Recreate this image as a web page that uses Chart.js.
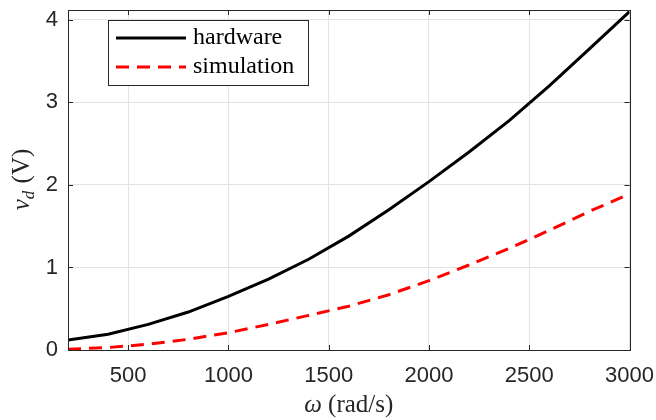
<!DOCTYPE html>
<html>
<head>
<meta charset="utf-8">
<script src="https://cdn.jsdelivr.net/npm/chart.js@4.4.1/dist/chart.umd.min.js"></script>
<style>
html,body{margin:0;padding:0;background:#fff;}
#wrap{width:656px;height:420px;position:relative;}
</style>
</head>
<body>
<div id="wrap"><canvas id="c" width="656" height="420"></canvas></div>
<script>
const omega = [200,400,600,800,1000,1200,1400,1600,1800,2000,2200,2400,2600,2800,3000];
const hardware = [0.12,0.19,0.31,0.46,0.65,0.86,1.10,1.38,1.70,2.04,2.40,2.78,3.20,3.65,4.10];
const simulation = [0.01,0.03,0.07,0.13,0.21,0.31,0.42,0.53,0.67,0.84,1.03,1.23,1.45,1.68,1.89];
const xTicks = [500,1000,1500,2000,2500,3000];
const yTicks = [0,1,2,3,4];
const seriesNames = ['hardware','simulation'];
const xTitleSym = 'ω';
const xTitleUnit = ' (rad/s)';
const yTitleSym = 'v';
const yTitleSub = 'd';
const yTitleUnit = ' (V)';

const AX = '#262626';
const serif = '"Liberation Serif", "DejaVu Serif", serif';

const toXY = (xs, ys) => xs.map((x,i)=>({x:x, y:ys[i]}));

const framePlugin = {
  id:'frame',
  afterDraw(chart){
    const {ctx, chartArea:a, scales} = chart;
    ctx.save();
    ctx.strokeStyle = AX;
    ctx.lineWidth = 1;
    ctx.strokeRect(Math.round(a.left)+0.5, Math.round(a.top)+0.5, Math.round(a.right-a.left), Math.round(a.bottom-a.top));
    const tl = 5;
    ctx.beginPath();
    xTicks.forEach(v=>{
      const px = Math.round(scales.x.getPixelForValue(v))+0.5;
      ctx.moveTo(px,a.bottom); ctx.lineTo(px,a.bottom-tl);
      ctx.moveTo(px,a.top); ctx.lineTo(px,a.top+tl);
    });
    yTicks.forEach(v=>{
      const py = Math.round(scales.y.getPixelForValue(v))+0.5;
      ctx.moveTo(a.left,py); ctx.lineTo(a.left+tl,py);
      ctx.moveTo(a.right,py); ctx.lineTo(a.right-tl,py);
    });
    ctx.stroke();

    // legend
    const lx=108.5, ly=20.5, lw=200, lh=65;
    ctx.fillStyle='#fff';
    ctx.fillRect(lx,ly,lw,lh);
    ctx.strokeStyle=AX;
    ctx.strokeRect(lx,ly,lw,lh);
    const rows=[38,67];
    chart.data.datasets.forEach((ds,i)=>{
      ctx.beginPath();
      ctx.strokeStyle=ds.borderColor;
      ctx.lineWidth=ds.borderWidth;
      ctx.setLineDash(ds.borderDash||[]);
      ctx.moveTo(116,rows[i]); ctx.lineTo(186,rows[i]);
      ctx.stroke();
      ctx.setLineDash([]);
      ctx.fillStyle='#000';
      ctx.font='24px '+serif;
      ctx.textBaseline='middle';
      ctx.textAlign='left';
      ctx.fillText(ds.label,193,rows[i]);
    });

    // x title
    ctx.fillStyle=AX;
    ctx.textBaseline='alphabetic';
    ctx.font='italic 25px '+serif;
    const w1 = ctx.measureText(xTitleSym).width;
    ctx.font='25px '+serif;
    const w2 = ctx.measureText(xTitleUnit).width;
    const cx=(a.left+a.right)/2;
    let x0 = cx-(w1+w2)/2;
    ctx.font='italic 25px '+serif;
    ctx.fillText(xTitleSym,x0,412);
    ctx.font='25px '+serif;
    ctx.fillText(xTitleUnit,x0+w1,412);

    // y title
    ctx.save();
    ctx.translate(29,(a.top+a.bottom)/2);
    ctx.rotate(-Math.PI/2);
    ctx.font='italic 25px '+serif;
    const v1=ctx.measureText(yTitleSym).width;
    ctx.font='italic 17px '+serif;
    const v2=ctx.measureText(yTitleSub).width;
    ctx.font='25px '+serif;
    const v3=ctx.measureText(yTitleUnit).width;
    let y0=-(v1+v2+v3)/2;
    ctx.font='italic 25px '+serif;
    ctx.fillText(yTitleSym,y0,0);
    ctx.font='italic 17px '+serif;
    ctx.fillText(yTitleSub,y0+v1,5);
    ctx.font='25px '+serif;
    ctx.fillText(yTitleUnit,y0+v1+v2+1,0);
    ctx.restore();
    ctx.restore();
  }
};

const zeroPad = s => { s.paddingLeft=0; s.paddingRight=0; s.paddingTop=0; s.paddingBottom=0; };

new Chart(document.getElementById('c'), {
  type:'line',
  data:{
    datasets:[
      {label:seriesNames[0], data:toXY(omega,hardware), borderColor:'#000000', borderWidth:3, pointRadius:0, tension:0, fill:false},
      {label:seriesNames[1], data:toXY(omega,simulation), borderColor:'#ff0000', borderWidth:3, borderDash:[13,8], pointRadius:0, tension:0, fill:false}
    ]
  },
  options:{
    responsive:false,
    animation:false,
    devicePixelRatio:1,
    layout:{padding:{top:10,right:26.5,left:0,bottom:0}},
    plugins:{legend:{display:false}, tooltip:{enabled:false}},
    scales:{
      x:{
        type:'linear', min:200, max:3000,
        afterBuildTicks(s){ s.ticks = xTicks.map(v=>({value:v})); },
        afterFit(s){ s.height = 70; zeroPad(s); },
        grid:{color:'#e3e3e3', drawTicks:false, lineWidth:1},
        border:{display:false},
        ticks:{color:AX, font:{family:'"Liberation Sans", Arial, sans-serif', size:22}, padding:13, maxRotation:0, autoSkip:false, callback:v=>String(v)}
      },
      y:{
        type:'linear', min:0, max:4.12,
        afterBuildTicks(s){ s.ticks = yTicks.map(v=>({value:v})); },
        afterFit(s){ s.width = 68; zeroPad(s); },
        grid:{color:'#e3e3e3', drawTicks:false, lineWidth:1},
        border:{display:false},
        ticks:{color:AX, font:{family:'"Liberation Sans", Arial, sans-serif', size:22}, padding:10, autoSkip:false, callback:v=>String(v)}
      }
    }
  },
  plugins:[framePlugin]
});
</script>
</body>
</html>
